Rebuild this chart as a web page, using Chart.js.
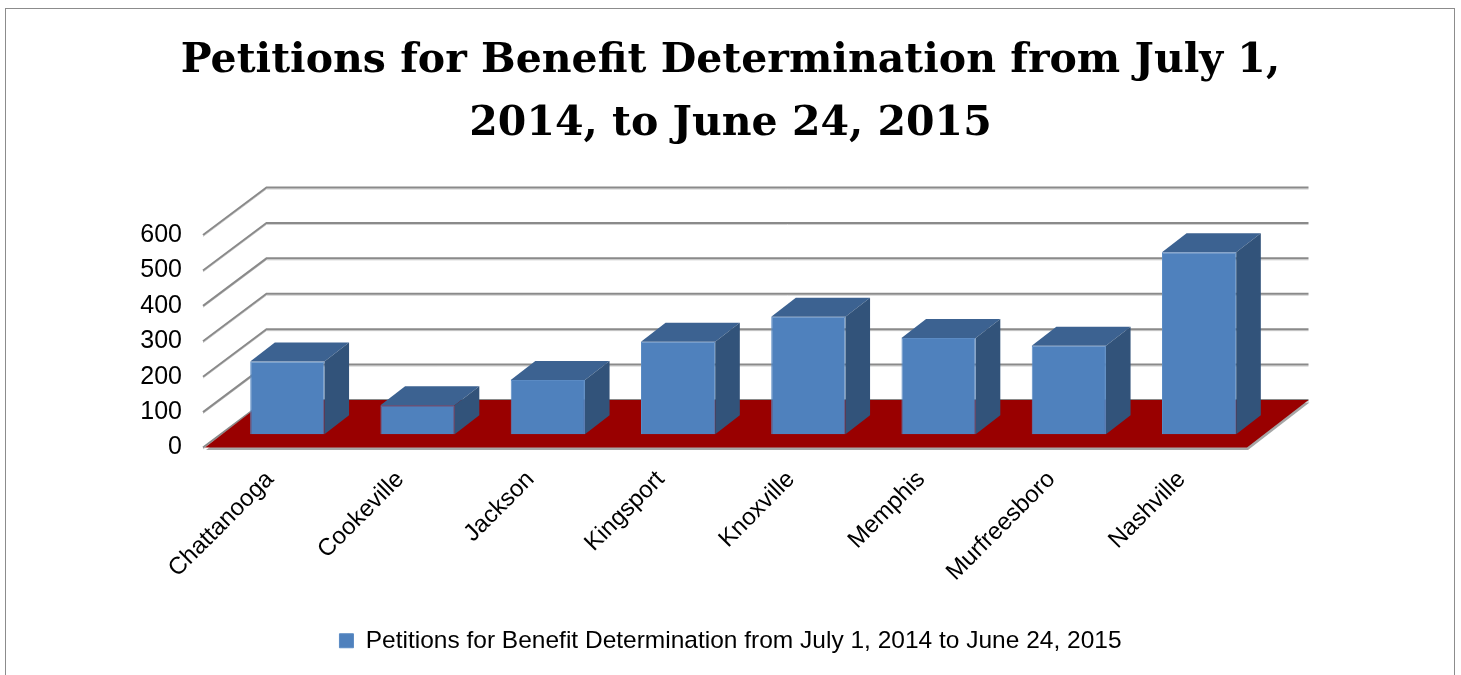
<!DOCTYPE html>
<html>
<head>
<meta charset="utf-8">
<script src="https://cdn.jsdelivr.net/npm/chart.js@4/dist/chart.umd.min.js"></script>
<style>
  body { margin: 0; background: #fff; }
  .frame { position: absolute; left: 5px; top: 8px; width: 1448px; height: 700px; border: 1px solid #8c8c8c; }
  #chart { position: absolute; left: 0; top: 0; }
</style>
</head>
<body>
<div class="frame"></div>
<canvas id="chart" width="1461" height="675"></canvas>
<script>
const titleLines = ["Petitions for Benefit Determination from July 1,", "2014, to June 24, 2015"];
const seriesName = "Petitions for Benefit Determination from July 1, 2014 to June 24, 2015";
const cities = ["Chattanooga", "Cookeville", "Jackson", "Kingsport", "Knoxville", "Memphis", "Murfreesboro", "Nashville"];
const petitions = [205, 82, 153, 261, 332, 272, 250, 514];
const yTicks = [0, 100, 200, 300, 400, 500, 600];

// depth of the floor (front edge -> back wall), bars sit in the middle of it
const DX = 61.5, DY = -47.5;
const BAR_FRONT = 0.28, BAR_DEPTH = 0.40;

const frontColor = "#4f81bd";
const topColor = "#3c6291";
const sideColor = "#32537a";
const labelFont = "'Liberation Sans Narrow', 'Liberation Sans', sans-serif";

const box3d = {
  id: "box3d",
  beforeDatasetsDraw(chart) {
    const ctx = chart.ctx;
    const area = chart.chartArea;
    const ys = chart.scales.y;
    ctx.save();
    // gridlines on side and back wall
    yTicks.forEach(v => {
      const y = ys.getPixelForValue(v);
      ctx.lineWidth = 1;
      ctx.strokeStyle = "#cfcfcf";
      ctx.beginPath();
      ctx.moveTo(area.left - 2, y + 1.5);
      ctx.lineTo(area.left + DX, y + DY + 1.5);
      ctx.lineTo(area.right + DX, y + DY + 1.5);
      ctx.stroke();
      ctx.lineWidth = 2;
      ctx.strokeStyle = "#8a8a8a";
      ctx.beginPath();
      ctx.moveTo(area.left - 2, y);
      ctx.lineTo(area.left + DX, y + DY);
      ctx.lineTo(area.right + DX, y + DY);
      ctx.stroke();
    });
    // floor
    const y0 = ys.getPixelForValue(0);
    const floor = (ox, oy) => {
      ctx.beginPath();
      ctx.moveTo(area.left + ox, y0 + oy);
      ctx.lineTo(area.right + ox, y0 + oy);
      ctx.lineTo(area.right + DX + ox, y0 + DY + oy);
      ctx.lineTo(area.left + DX + ox, y0 + DY + oy);
      ctx.closePath();
      ctx.fill();
    };
    ctx.fillStyle = "#a6a6a6";
    floor(1, 2.5);
    ctx.fillStyle = "#990000";
    floor(0, 0);
    ctx.restore();
    // shift bar fronts back into the floor
    ctx.save();
    ctx.translate(BAR_FRONT * DX, BAR_FRONT * DY);
  },
  afterDatasetsDraw(chart) {
    const ctx = chart.ctx;
    ctx.restore();
    const fx = BAR_FRONT * DX, fy = BAR_FRONT * DY;
    const dx = BAR_DEPTH * DX, dy = BAR_DEPTH * DY;
    ctx.save();
    chart.getDatasetMeta(0).data.forEach(bar => {
      const p = bar.getProps(["x", "y", "base", "width"], true);
      const l = p.x - p.width / 2 + fx, r = p.x + p.width / 2 + fx;
      const t = p.y + fy, b = p.base + fy;
      ctx.fillStyle = topColor;
      ctx.beginPath();
      ctx.moveTo(l, t); ctx.lineTo(r, t); ctx.lineTo(r + dx, t + dy); ctx.lineTo(l + dx, t + dy);
      ctx.closePath(); ctx.fill();
      ctx.fillStyle = sideColor;
      ctx.beginPath();
      ctx.moveTo(r, t); ctx.lineTo(r + dx, t + dy); ctx.lineTo(r + dx, b + dy); ctx.lineTo(r, b);
      ctx.closePath(); ctx.fill();
    });
    ctx.restore();
  }
};

new Chart(document.getElementById("chart"), {
  type: "bar",
  data: {
    labels: cities,
    datasets: [{
      label: seriesName,
      data: petitions,
      backgroundColor: frontColor,
      borderColor: "#5b8bc4",
      borderWidth: 1,
      categoryPercentage: 1,
      barPercentage: 0.57,
      clip: false
    }]
  },
  options: {
    responsive: false,
    animation: false,
    layout: { padding: { top: 0, left: 0, right: 0, bottom: 12 } },
    plugins: {
      title: {
        display: true,
        text: titleLines,
        color: "#000",
        font: { family: "'DejaVu Serif', serif", size: 41, weight: "bold", lineHeight: 1.537 },
        padding: { top: 30, bottom: 79 }
      },
      legend: {
        position: "bottom",
        labels: {
          color: "#000",
          boxWidth: 14,
          boxHeight: 14,
          font: { family: labelFont, size: 24.5 }
        }
      },
      tooltip: { enabled: false }
    },
    scales: {
      x: {
        grid: { display: false, drawTicks: false },
        border: { display: false },
        ticks: {
          color: "#000",
          autoSkip: false,
          maxRotation: 45,
          minRotation: 45,
          padding: 18,
          font: { family: labelFont, size: 24 }
        },
        afterFit: s => { s.height = 171; }
      },
      y: {
        min: 0,
        max: 600,
        grid: { display: false, drawTicks: false },
        border: { display: false },
        ticks: {
          color: "#000",
          stepSize: 100,
          padding: 23,
          font: { family: labelFont, size: 25 }
        },
        afterFit: s => { s.width = 205; }
      },
      // empty strip on the right so title and legend centre on the whole picture
      pad: {
        type: "linear",
        position: "right",
        display: true,
        grid: { display: false, drawTicks: false },
        border: { display: false },
        ticks: { display: false },
        afterFit: s => { s.width = 214; }
      }
    }
  },
  plugins: [box3d]
});
</script>
</body>
</html>
